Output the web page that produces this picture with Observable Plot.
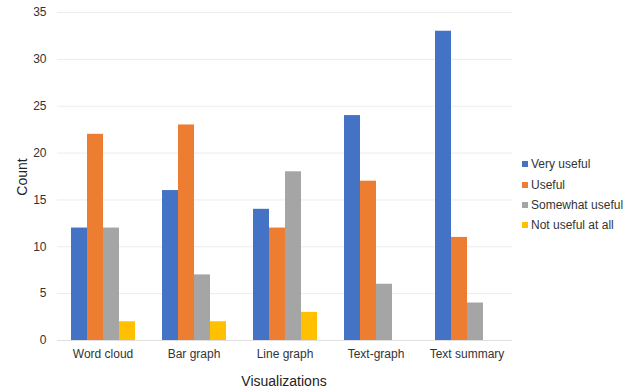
<!DOCTYPE html>
<html>
<head>
<meta charset="utf-8">
<script src="https://cdn.jsdelivr.net/npm/d3@7"></script>
<script src="https://cdn.jsdelivr.net/npm/@observablehq/plot@0.6"></script>
<style>
  html, body { margin: 0; padding: 0; background: #fff; }
  #wrap { position: relative; width: 636px; height: 392px; font-family: "Liberation Sans", Arial, sans-serif; color: #333; }
  #wrap svg { position: absolute; left: 0; top: 0; }
  .ttl { position: absolute; font-size: 14px; color: #222; white-space: nowrap; }
  #legend { position: absolute; left: 522px; top: 154px; font-size: 12px; color: #333; }
  #legend .item { display: flex; align-items: center; height: 20.4px; white-space: nowrap; }
  #legend .sw { width: 6px; height: 6px; margin-right: 3px; }
</style>
</head>
<body>
<div id="wrap"></div>
<script>
const categories = ["Word cloud", "Bar graph", "Line graph", "Text-graph", "Text summary"];
const series = ["Very useful", "Useful", "Somewhat useful", "Not useful at all"];
const colors = ["#4472C4", "#ED7D31", "#A5A5A5", "#FFC000"];
const veryUseful = [12, 16, 14, 24, 33];
const useful = [22, 23, 12, 17, 11];
const somewhatUseful = [12, 7, 18, 6, 4];
const notUseful = [2, 2, 3, 0, 0];
const yTicks = [0, 5, 10, 15, 20, 25, 30, 35];

const seriesValues = [veryUseful, useful, somewhatUseful, notUseful];
const data = [];
categories.forEach((c, i) => {
  series.forEach((s, j) => {
    data.push({category: c, series: s, value: seriesValues[j][i]});
  });
});

const chart = Plot.plot({
  width: 636,
  height: 392,
  marginLeft: 56,
  marginRight: 124,
  marginTop: 12,
  marginBottom: 52,
  style: {fontFamily: "Liberation Sans, Arial, sans-serif", fontSize: "12px", color: "#333", background: "transparent"},
  fx: {domain: categories, padding: 0},
  x: {domain: series, axis: null, paddingInner: 0, paddingOuter: 0.76},
  y: {domain: [0, 35]},
  color: {domain: series, range: colors},
  marks: [
    Plot.gridY(yTicks, {stroke: "#ececec", strokeOpacity: 1}),
    Plot.ruleY([0], {stroke: "#e0e0e0"}),
    Plot.barY(data, {fx: "category", x: "series", y: "value", fill: "series"}),
    Plot.axisY(yTicks, {tickSize: 0, tickPadding: 11, label: null, fontSize: 12}),
    Plot.axisFx({anchor: "bottom", tickSize: 0, tickPadding: 9, label: null, fontSize: 12})
  ]
});
const wrap = document.getElementById("wrap");
wrap.appendChild(chart);

const ylab = document.createElement("div");
ylab.className = "ttl";
ylab.textContent = "Count";
ylab.style.left = "22px";
ylab.style.top = "177px";
ylab.style.transform = "translate(-50%, -50%) rotate(-90deg)";
wrap.appendChild(ylab);

const xlab = document.createElement("div");
xlab.className = "ttl";
xlab.textContent = "Visualizations";
xlab.style.left = "284px";
xlab.style.top = "381px";
xlab.style.transform = "translate(-50%, -50%)";
wrap.appendChild(xlab);

const legend = document.createElement("div");
legend.id = "legend";
series.forEach((s, i) => {
  const it = document.createElement("div");
  it.className = "item";
  const sw = document.createElement("span");
  sw.className = "sw";
  sw.style.background = colors[i];
  const tx = document.createElement("span");
  tx.textContent = s;
  it.appendChild(sw);
  it.appendChild(tx);
  legend.appendChild(it);
});
wrap.appendChild(legend);
</script>
</body>
</html>
